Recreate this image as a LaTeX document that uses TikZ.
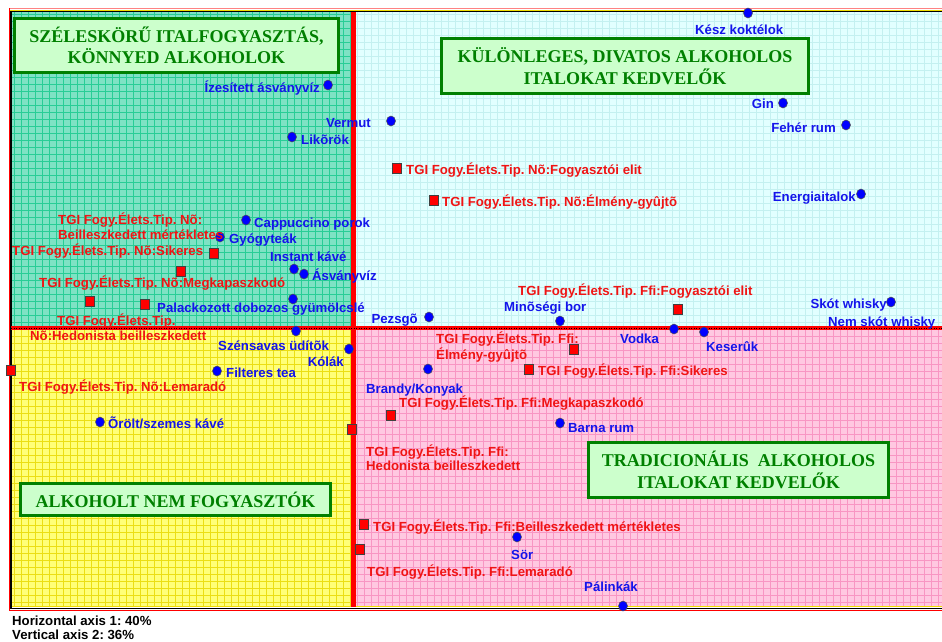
\documentclass[tikz,border=0pt]{standalone}
\usepackage{fontspec}
\usetikzlibrary{shapes.geometric}
\newfontfamily\lblfam{Liberation Sans}
\newfontfamily\ttlfam{Liberation Serif}
\frenchspacing
\definecolor{tealbg}{RGB}{126,226,196}
\definecolor{tealgrid}{RGB}{40,205,150}
\definecolor{cyanbg}{RGB}{226,255,255}
\definecolor{cyangrid}{RGB}{196,240,240}
\definecolor{yelbg}{RGB}{255,255,120}
\definecolor{yelgrid}{RGB}{235,222,20}
\definecolor{pinkbg}{RGB}{255,200,225}
\definecolor{pinkgrid}{RGB}{248,150,195}
\definecolor{ttlgreen}{RGB}{0,128,0}
\definecolor{ttlfill}{RGB}{204,255,204}
\definecolor{lblblue}{RGB}{20,20,235}
\definecolor{lblred}{RGB}{240,20,20}
\definecolor{ptblue}{RGB}{0,0,255}
\definecolor{framepink}{RGB}{255,130,130}
\definecolor{frameyel}{RGB}{240,220,0}
\tikzset{
  lbl/.style={font=\lblfam\bfseries\frenchspacing\fontsize{13.2}{15}\selectfont, inner sep=0pt, text height=9.5pt, text depth=1.5pt},
  lblb/.style={lbl, text=lblblue},
  lblr/.style={lbl, text=lblred},
  lblk/.style={lbl, text=black},
  bpt/.style={ellipse, fill=ptblue, draw=black!70, line width=0.5pt, minimum width=9pt, minimum height=10pt, inner sep=0pt},
  rsq/.style={rectangle, fill=red, draw=black!75, line width=0.8pt, minimum width=9pt, minimum height=10pt, inner sep=0pt},
  titlebox/.style={draw=ttlgreen, fill=ttlfill, line width=3pt, text=ttlgreen, font=\ttlfam\bfseries\frenchspacing\fontsize{18}{21.5}\selectfont, align=center, inner sep=0pt}
}
\begin{document}
\begin{tikzpicture}[x=1pt,y=-1pt]
\useasboundingbox (0,0) rectangle (942,641);
\fill[white] (0,0) rectangle (942,641);
% quadrants
\fill[tealbg] (11,12) rectangle (353.5,328);
\fill[cyanbg] (353.5,12) rectangle (942,328);
\fill[yelbg] (11,328) rectangle (353.5,607);
\fill[pinkbg] (353.5,328) rectangle (942,607);
\begin{scope}
\clip (11,12) rectangle (353.5,328);
\draw[tealgrid, line width=0.6pt, step=7pt] (11,12) grid (353.5,328);
\end{scope}
\begin{scope}
\clip (353.5,12) rectangle (942,328);
\draw[cyangrid, line width=0.6pt, step=7pt] (353.5,12) grid (942,328);
\end{scope}
\begin{scope}
\clip (11,328) rectangle (353.5,607);
\draw[yelgrid, line width=0.6pt, step=7pt] (11,328) grid (353.5,607);
\end{scope}
\begin{scope}
\clip (353.5,328) rectangle (942,607);
\draw[pinkgrid, line width=0.6pt, step=7pt] (353.5,328) grid (942,607);
\end{scope}
% frame
\draw[framepink, line width=1pt] (9,8) -- (942,8);
\draw[frameyel, line width=0.8pt] (9,10) -- (942,10);
\draw[black, line width=1.5pt] (9,11.5) -- (942,11.5);
\draw[frameyel, line width=0.8pt] (9,606.5) -- (942,606.5);
\draw[black, line width=1.5pt] (9,608.5) -- (942,608.5);
\draw[red, line width=1pt] (9,610.5) -- (942,610.5);
\draw[red, line width=1pt] (9.5,8) -- (9.5,611);
\draw[black, line width=1.2pt] (11,11) -- (11,609);
% dividers
\draw[red, line width=4.5pt] (353.5,12) -- (353.5,607);
\draw[red, line width=4.5pt] (11,328) -- (942,328);
\draw[black, line width=0.5pt, dotted] (11,328) -- (942,328);
% title boxes
\node[titlebox, minimum width=324pt, minimum height=54pt] (t1) at (176.5,45.5) {SZÉLESKÖRŰ ITALFOGYASZTÁS,\\KÖNNYED ALKOHOLOK};
\node[titlebox, minimum width=367pt, minimum height=55pt] (t2) at (625,66) {KÜLÖNLEGES, DIVATOS ALKOHOLOS\\ITALOKAT KEDVELŐK};
\node[titlebox, minimum width=300pt, minimum height=55pt] (t3) at (738.5,470) {TRADICIONÁLIS~~ALKOHOLOS\\ITALOKAT KEDVELŐK};
\node[titlebox, minimum width=310pt, minimum height=32pt] (t4) at (175.5,499.5) {ALKOHOLT NEM FOGYASZTÓK};
% blue points
\node[bpt] (pkesz) at (748,13) {};
\node[bpt] (pizes) at (328,85) {};
\node[bpt] (pvermut) at (391,121) {};
\node[bpt] (plikor) at (292,137) {};
\node[bpt] (pgin) at (783,103) {};
\node[bpt] (pfeher) at (846,125) {};
\node[bpt] (penerg) at (861,194) {};
\node[bpt] (pcapp) at (246,220) {};
\node[bpt] (pgyogy) at (220,237) {};
\node[bpt] (pinstant) at (294,269) {};
\node[bpt] (pasvany) at (304,274) {};
\node[bpt] (ppalack) at (293,299) {};
\node[bpt] (ppezsgo) at (429,317) {};
\node[bpt] (pminos) at (560,321) {};
\node[bpt] (pskot) at (891,302) {};
\node[bpt] (pszensav) at (296,331) {};
\node[bpt] (pkola) at (349,349) {};
\node[bpt] (pfilter) at (217,371) {};
\node[bpt] (porolt) at (100,422) {};
\node[bpt] (pvodka) at (674,329) {};
\node[bpt] (pkeseru) at (704,332) {};
\node[bpt] (pbrandy) at (428,369) {};
\node[bpt] (pbarna) at (560,423) {};
\node[bpt] (psor) at (517,537) {};
\node[bpt] (ppalinka) at (623,606) {};
% red squares
\node[rsq] (s1) at (397,168) {};
\node[rsq] (s2) at (434,200) {};
\node[rsq] (s3) at (214,253) {};
\node[rsq] (s4) at (181,271) {};
\node[rsq] (s5) at (90,301) {};
\node[rsq] (s6) at (145,304) {};
\node[rsq] (s7) at (11,370) {};
\node[rsq] (s8) at (352,429) {};
\node[rsq] (s9) at (574,349) {};
\node[rsq] (s10) at (529,369) {};
\node[rsq] (s11) at (391,415) {};
\node[rsq] (s12) at (678,309) {};
\node[rsq] (s13) at (364,524) {};
\node[rsq] (s14) at (360,549) {};
% blue labels
\node[lblb, anchor=west] (lkesz) at (695,30) {Kész koktélok};
\node[lblb, anchor=east] (lizes) at (320,88) {Ízesített ásványvíz};
\node[lblb, anchor=east] (lvermut) at (371,123) {Vermut};
\node[lblb, anchor=west] (llikor) at (301,140) {Likõrök};
\node[lblb, anchor=east] (lgin) at (774,104) {Gin};
\node[lblb, anchor=east] (lfeher) at (836,128) {Fehér rum};
\node[lblb, anchor=east] (lenerg) at (856,197) {Energiaitalok};
\node[lblb, anchor=west] (lcapp) at (254,223) {Cappuccino porok};
\node[lblb, anchor=west] (lgyogy) at (229,239) {Gyógyteák};
\node[lblb, anchor=west] (linstant) at (270,257) {Instant kávé};
\node[lblb, anchor=west] (lasvany) at (312,276) {Ásványvíz};
\node[lblb, anchor=west] (lpalack) at (157,308) {Palackozott dobozos gyümölcslé};
\node[lblb, anchor=east] (lpezsgo) at (418,319) {Pezsgõ};
\node[lblb, anchor=west] (lminos) at (504,307) {Minõségi bor};
\node[lblb, anchor=east] (lskot) at (887,304) {Skót whisky};
\node[lblb, anchor=west] (lnemskot) at (828,322) {Nem skót whisky};
\node[lblb, anchor=west] (lszensav) at (218,346) {Szénsavas üdítõk};
\node[lblb, anchor=east] (lkola) at (344,362) {Kólák};
\node[lblb, anchor=west] (lfilter) at (226,373) {Filteres tea};
\node[lblb, anchor=west] (lorolt) at (108,424) {Õrölt/szemes kávé};
\node[lblb, anchor=west] (lvodka) at (620,339) {Vodka};
\node[lblb, anchor=west] (lkeseru) at (706,347) {Keserûk};
\node[lblb, anchor=west] (lbrandy) at (366,389) {Brandy/Konyak};
\node[lblb, anchor=west] (lbarna) at (568,428) {Barna rum};
\node[lblb, anchor=west] (lsor) at (511,555) {Sör};
\node[lblb, anchor=west] (lpalinka) at (584,587) {Pálinkák};
% red labels
\node[lblr, anchor=west] (r1) at (406,170) {TGI Fogy.Élets.Tip. Nõ:Fogyasztói elit};
\node[lblr, anchor=west] (r2) at (442,202) {TGI Fogy.Élets.Tip. Nõ:Élmény-gyûjtõ};
\node[lblr, anchor=west] (r3a) at (58,220) {TGI Fogy.Élets.Tip. Nõ:};
\node[lblr, anchor=west] (r3b) at (58,235) {Beilleszkedett mértékletes};
\node[lblr, anchor=west] (r4) at (12,251) {TGI Fogy.Élets.Tip. Nõ:Sikeres};
\node[lblr, anchor=west] (r5) at (39,283) {TGI Fogy.Élets.Tip. Nõ:Megkapaszkodó};
\node[lblr, anchor=west] (r6a) at (57,321) {TGI Fogy.Élets.Tip.};
\node[lblr, anchor=west] (r6b) at (30,336) {Nõ:Hedonista beilleszkedett};
\node[lblr, anchor=west] (r7) at (19,387) {TGI Fogy.Élets.Tip. Nõ:Lemaradó};
\node[lblr, anchor=west] (r8a) at (366,452) {TGI Fogy.Élets.Tip. Ffi:};
\node[lblr, anchor=west] (r8b) at (366,466) {Hedonista beilleszkedett};
\node[lblr, anchor=west] (r9a) at (436,339) {TGI Fogy.Élets.Tip. Ffi:};
\node[lblr, anchor=west] (r9b) at (436,355) {Élmény-gyûjtõ};
\node[lblr, anchor=west] (r10) at (538,371) {TGI Fogy.Élets.Tip. Ffi:Sikeres};
\node[lblr, anchor=west] (r11) at (399,403) {TGI Fogy.Élets.Tip. Ffi:Megkapaszkodó};
\node[lblr, anchor=west] (r12) at (518,291) {TGI Fogy.Élets.Tip. Ffi:Fogyasztói elit};
\node[lblr, anchor=west] (r13) at (373,527) {TGI Fogy.Élets.Tip. Ffi:Beilleszkedett mértékletes};
\node[lblr, anchor=west] (r14) at (367,572) {TGI Fogy.Élets.Tip. Ffi:Lemaradó};
% axis notes
\node[lblk, anchor=west] (ax1) at (12,621) {Horizontal axis 1: 40\%};
\node[lblk, anchor=west] (ax2) at (12,635) {Vertical axis 2: 36\%};
\end{tikzpicture}
\end{document}
